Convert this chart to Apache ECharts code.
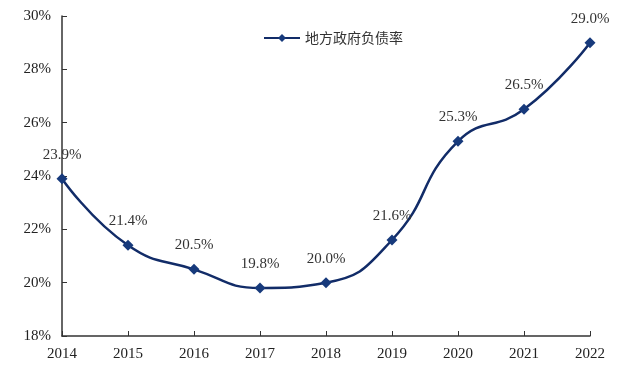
<!DOCTYPE html>
<html><head><meta charset="utf-8">
<script src="https://cdn.jsdelivr.net/npm/echarts@6/dist/echarts.min.js"></script>
<style>html,body{margin:0;padding:0;background:#fff}#c{width:640px;height:367px}</style>
</head><body><div id="c"></div>
<script>
const years = ['2014','2015','2016','2017','2018','2019','2020','2021','2022'];
const debtRatio = [23.9, 21.4, 20.5, 19.8, 20.0, 21.6, 25.3, 26.5, 29.0];
const seriesName = '地方政府负债率';
const yMin = 18, yMax = 30, yStep = 2;

const serif = '"Liberation Serif","DejaVu Serif",serif';
const chart = echarts.init(document.getElementById('c'));
chart.setOption({
  backgroundColor: '#fff',
  animation: false,
  grid: {left: 62, right: 50, top: 16, bottom: 31, containLabel: false},
  legend: {
    top: 26, left: 258,
    itemWidth: 36, itemHeight: 10, itemGap: 6,
    textStyle: {fontFamily: '"Noto Sans CJK SC",sans-serif', fontSize: 14, color: '#333'},
    data: [seriesName]
  },
  xAxis: {
    type: 'category', data: years, boundaryGap: false,
    axisLine: {lineStyle: {color: '#333', width: 1.5}},
    axisTick: {inside: true, length: 5, lineStyle: {color: '#333'}},
    axisLabel: {fontFamily: serif, fontSize: 15, color: '#222', margin: 11}
  },
  yAxis: {
    type: 'value', min: yMin, max: yMax, interval: yStep,
    axisLine: {show: true, lineStyle: {color: '#333', width: 1.5}},
    axisTick: {show: true, inside: true, length: 5, lineStyle: {color: '#333'}},
    splitLine: {show: false},
    axisLabel: {fontFamily: serif, fontSize: 15, color: '#222', margin: 11, formatter: v => v + '%'}
  },
  series: [{
    name: seriesName, type: 'line', data: debtRatio, smooth: 0.5,
    symbol: 'diamond', symbolSize: 11,
    lineStyle: {color: '#122c68', width: 2.5},
    itemStyle: {color: '#173a7c'},
    label: {show: true, position: 'top', distance: 11, fontFamily: serif, fontSize: 15, color: '#333',
      formatter: p => p.value.toFixed(1) + '%'}
  }]
});
</script></body></html>
